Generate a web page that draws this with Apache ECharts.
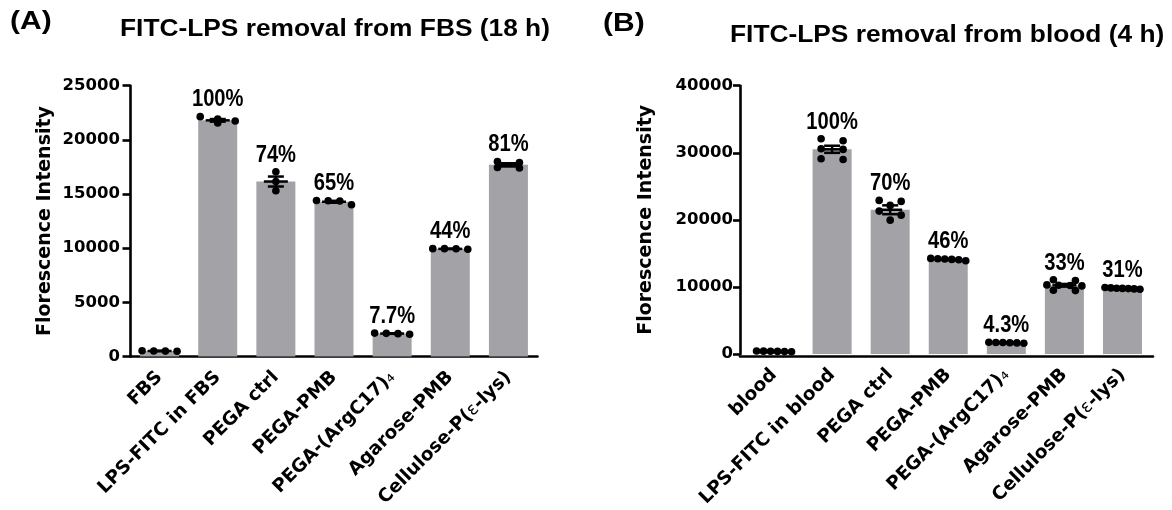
<!DOCTYPE html>
<html><head><meta charset="utf-8">
<script src="https://cdn.jsdelivr.net/npm/echarts@6/dist/echarts.min.js"></script>
<style>html,body{margin:0;padding:0;background:#fff}#c{width:1172px;height:510px}</style>
</head><body><div id="c"></div>
<script>
// ---------- data ----------
const catsA = ['FBS', 'LPS-FITC in FBS', 'PEGA ctrl', 'PEGA-PMB', 'PEGA-(ArgC17)₄', 'Agarose-PMB', 'Cellulose-P(ε-lys)'];
const catsB = ['blood', 'LPS-FITC in blood', 'PEGA ctrl', 'PEGA-PMB', 'PEGA-(ArgC17)₄', 'Agarose-PMB', 'Cellulose-P(ε-lys)'];
const meansA = [500, 21800, 16150, 14280, 2110, 9930, 17690];
const semA   = [10, 120, 460, 90, 25, 12, 150];
const dotsA = [
  [520, 500, 490, 480],
  [22140, 21930, 21740, 21560],
  [17050, 16150, 15300],
  [14400, 14380, 14350, 14000],
  [2150, 2130, 2100, 2050],
  [9950, 9950, 9940, 9900],
  [17990, 17900, 17450, 17400]
];
const pctA = ['', '100%', '74%', '65%', '7.7%', '44%', '81%'];

const meansB = [400, 30520, 21500, 14100, 1680, 10240, 9780];
const semB   = [30, 530, 660, 60, 25, 200, 40];
const dotsB = [
  [450, 420, 400, 380, 350, 330],
  [32100, 31800, 30600, 30500, 29100, 29000],
  [22900, 22750, 22150, 21300, 20700, 19950],
  [14250, 14200, 14150, 14100, 14050, 13900],
  [1750, 1720, 1700, 1680, 1650, 1600],
  [11050, 10950, 10300, 10250, 10200, 10150, 9500, 9450],
  [9900, 9850, 9800, 9780, 9750, 9700, 9650]
];
const pctB = ['', '100%', '70%', '46%', '4.3%', '33%', '31%'];

const ticksA = {min: 0, max: 25000, interval: 5000};
const ticksB = {min: 0, max: 40000, interval: 10000};

// ---------- styling ----------
const FONT = '"DejaVu Sans", "Liberation Sans", sans-serif';
const PCT_FONT = 'bold 24px "Liberation Sans", Arial, sans-serif';
const TITLE_FONT = 'bold 23.5px "Liberation Sans", Arial, sans-serif';
const TAG_FONT = 'bold 25px "Liberation Sans", Arial, sans-serif';
const BAR = '#a3a2a7';
const AX = {color: '#000', width: 2.6};

function labelFmt(v) {
  return v.replace('₄', '{s|₄}').replace('ε', '{t|ε}');
}
const labelRich = {
  s: {fontFamily: FONT, fontWeight: 'normal', fontSize: 19, color: '#000'},
  t: {fontFamily: FONT, fontWeight: 'normal', fontSize: 17.5, color: '#000'}
};

function xAxisCfg(grid, cats) {
  return {
    gridIndex: grid, type: 'category', data: cats,
    axisLine: {lineStyle: AX},
    axisTick: {alignWithLabel: true, length: 8, lineStyle: AX},
    axisLabel: {
      rotate: 45, interval: 0, margin: 18, color: '#000',
      fontFamily: FONT, fontWeight: 'bold', fontSize: 18.5,
      formatter: labelFmt, rich: labelRich
    }
  };
}
function yAxisCfg(grid, t, offset, tickLen, margin, gap) {
  return {
    gridIndex: grid, type: 'value', min: t.min, max: t.max, interval: t.interval,
    offset: offset,
    axisLine: {show: true, lineStyle: AX},
    axisTick: {show: true, length: tickLen, lineStyle: AX},
    splitLine: {show: false},
    axisLabel: {color: '#000', fontFamily: FONT, fontWeight: 'bold', fontSize: 16.5, margin: margin,
      formatter: v => String(v)},
    name: 'Florescence Intensity', nameLocation: 'middle', nameRotate: 90, nameGap: gap,
    nameTextStyle: {color: '#000', fontFamily: FONT, fontWeight: 'bold', fontSize: 19}
  };
}

function dotSeries(xi, yi, dots, means, sems, pcts, spreadW, maxStep) {
  return {
    type: 'custom', xAxisIndex: xi, yAxisIndex: yi, z: 3,
    encode: {x: 0, y: 1},
    data: dots.map((d, i) => [i, Math.max(...d)]),
    renderItem(params, api) {
      const i = api.value(0);
      const vals = dots[i].slice().sort((a, b) => b - a);
      const pts = vals.map(v => api.coord([i, v]));
      const rows = [];
      pts.forEach(p => {
        const last = rows[rows.length - 1];
        if (last && Math.abs(p[1] - last[0][1]) < 4.5) last.push(p); else rows.push([p]);
      });
      const children = [];
      const R = 3.8;
      rows.forEach(r => {
        const n = r.length;
        const step = n > 1 ? Math.min(maxStep, spreadW / (n - 1)) : 0;
        r.forEach((p, k) => {
          children.push({type: 'circle', shape: {cx: p[0] + (k - (n - 1) / 2) * step, cy: p[1], r: R}, style: {fill: '#000'}});
        });
      });
      if (pcts[i]) {
        const whiskerTop = api.coord([i, means[i] + sems[i]])[1];
        const top = Math.min(pts[0][1] - R, whiskerTop);
        children.push({type: 'text', x: pts[0][0], y: top - 1, scaleX: 0.84,
          style: {text: pcts[i], x: 0, y: 0, align: 'center', verticalAlign: 'bottom', font: PCT_FONT, fill: '#000'}});
      }
      return {type: 'group', children};
    }
  };
}
function errSeries(xi, yi, means, sems) {
  return {
    type: 'custom', xAxisIndex: xi, yAxisIndex: yi, z: 4,
    encode: {x: 0, y: 1},
    data: means.map((m, i) => [i, m, sems[i]]),
    renderItem(params, api) {
      const i = api.value(0), m = api.value(1), s = api.value(2);
      const c = api.coord([i, m]), hi = api.coord([i, m + s]), lo = api.coord([i, m - s]);
      const st = {stroke: '#000', lineWidth: 2.5};
      const ln = (x1, y1, x2, y2) => ({type: 'line', shape: {x1, y1, x2, y2}, style: st});
      return {type: 'group', children: [
        ln(c[0], hi[1], c[0], lo[1]),
        ln(c[0] - 12, c[1], c[0] + 12, c[1]),
        ln(c[0] - 8, hi[1], c[0] + 8, hi[1]),
        ln(c[0] - 8, lo[1], c[0] + 8, lo[1])
      ]};
    }
  };
}

const chart = echarts.init(document.getElementById('c'), null, {renderer: 'canvas'});
chart.setOption({
  animation: false,
  backgroundColor: '#fff',
  textStyle: {fontFamily: FONT},
  graphic: [
    {type: 'text', x: 10, y: 22, scaleX: 1.2, style: {text: '(A)', x: 0, y: 0, verticalAlign: 'middle', font: TAG_FONT, fill: '#000'}},
    {type: 'text', x: 120, y: 29.5, scaleX: 1.12, style: {text: 'FITC-LPS removal from FBS (18 h)', x: 0, y: 0, verticalAlign: 'middle', font: TITLE_FONT, fill: '#000'}},
    {type: 'text', x: 603, y: 24, scaleX: 1.2, style: {text: '(B)', x: 0, y: 0, verticalAlign: 'middle', font: TAG_FONT, fill: '#000'}},
    {type: 'text', x: 730, y: 36, scaleX: 1.12, style: {text: 'FITC-LPS removal from blood (4 h)', x: 0, y: 0, verticalAlign: 'middle', font: TITLE_FONT, fill: '#000'}}
  ],
  grid: [
    {left: 130.5, top: 85.7, width: 407, height: 271},
    {left: 745, top: 85.7, width: 406.5, height: 271},
    {left: 740, top: 85.7, width: 413, height: 271}
  ],
  xAxis: [
    xAxisCfg(0, catsA),
    Object.assign(xAxisCfg(1, catsB), {axisLine: {show: false}}),
    {gridIndex: 2, type: 'category', data: catsB, axisLine: {lineStyle: AX}, axisTick: {show: false}, axisLabel: {show: false}}
  ],
  yAxis: [
    yAxisCfg(0, ticksA, 0, 8, 10.5, 76),
    yAxisCfg(1, ticksB, 5, 7, 7, 84),
    {gridIndex: 2, type: 'value', min: ticksB.min, max: ticksB.max, show: false}
  ],
  series: [
    {type: 'bar', xAxisIndex: 0, yAxisIndex: 0, data: meansA, barWidth: 39, itemStyle: {color: BAR}, z: 2},
    dotSeries(0, 0, dotsA, meansA, semA, pctA, 35, 22),
    errSeries(0, 0, meansA, semA),
    {type: 'bar', xAxisIndex: 1, yAxisIndex: 1, data: meansB, barWidth: 39, itemStyle: {color: BAR}, z: 2},
    dotSeries(1, 1, dotsB, meansB, semB, pctB, 35, 22),
    errSeries(1, 1, meansB, semB)
  ]
});
</script>
</body></html>
